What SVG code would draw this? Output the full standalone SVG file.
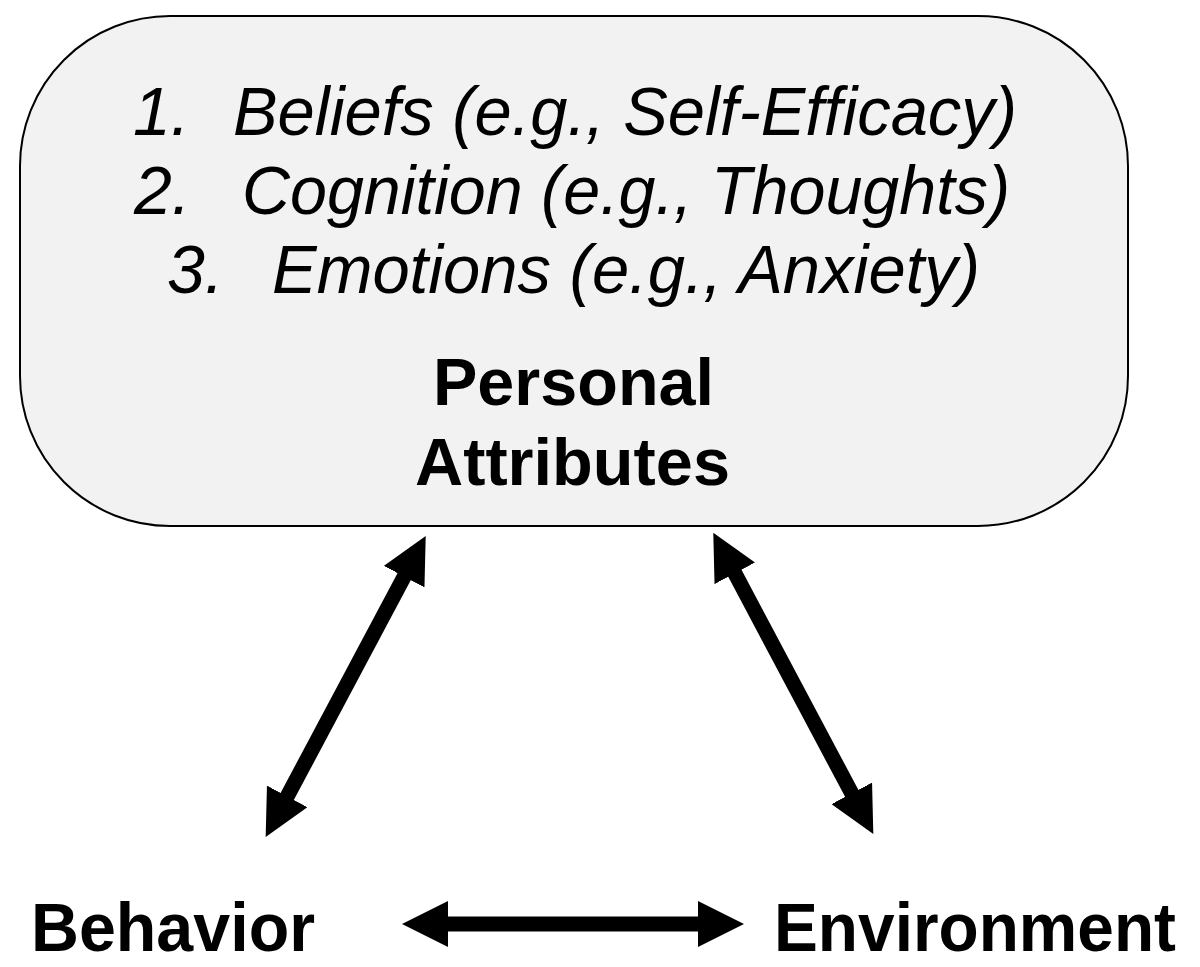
<svg xmlns="http://www.w3.org/2000/svg" width="1200" height="967" viewBox="0 0 1200 967">
<style>
.it{font-family:"Liberation Sans",Arial,sans-serif;font-style:italic;font-size:68px;fill:#000}
.bd{font-family:"Liberation Sans",Arial,sans-serif;font-weight:bold;font-size:67px;fill:#000}
.lbl{font-family:"Liberation Sans",Arial,sans-serif;font-weight:bold;font-size:68px;fill:#000}
.conn{stroke:#000;stroke-width:15;fill:none}
</style>
<defs>
<marker id="ah" viewBox="0 0 46 46" markerUnits="userSpaceOnUse" markerWidth="46" markerHeight="46" refX="11" refY="23" orient="auto-start-reverse">
<path d="M0,0 L46,23 L0,46 Z" fill="#000"/>
</marker>
</defs>
<g id="personal-attributes">
<rect x="20" y="16" width="1108" height="510" rx="150" ry="150" fill="#f2f2f2" stroke="#000" stroke-width="2"/>
<text class="it" x="133" y="135">1.</text>
<text class="it" x="233" y="135" textLength="784" lengthAdjust="spacingAndGlyphs">Beliefs (e.g., Self-Efficacy)</text>
<text class="it" x="134" y="214">2.</text>
<text class="it" x="242" y="214" textLength="768" lengthAdjust="spacingAndGlyphs">Cognition (e.g., Thoughts)</text>
<text class="it" x="167" y="293">3.</text>
<text class="it" x="272" y="293" textLength="708" lengthAdjust="spacingAndGlyphs">Emotions (e.g., Anxiety)</text>
<text class="bd" x="433" y="405" textLength="281" lengthAdjust="spacingAndGlyphs">Personal</text>
<text class="bd" x="415" y="485" textLength="315" lengthAdjust="spacingAndGlyphs">Attributes</text>
</g>
<g id="behavior">
<text class="lbl" x="31" y="951" textLength="284" lengthAdjust="spacingAndGlyphs">Behavior</text>
</g>
<g id="environment">
<text class="lbl" x="774" y="951" textLength="402" lengthAdjust="spacingAndGlyphs">Environment</text>
</g>
<g id="connectors">
<line class="conn" x1="282.1" y1="806.1" x2="409.3" y2="566.9" marker-start="url(#ah)" marker-end="url(#ah)"/>
<line class="conn" x1="729.7" y1="563.6" x2="856.9" y2="803.1" marker-start="url(#ah)" marker-end="url(#ah)"/>
<line class="conn" x1="437" y1="924" x2="709" y2="924" stroke-width="16" marker-start="url(#ah)" marker-end="url(#ah)"/>
</g>
</svg>
